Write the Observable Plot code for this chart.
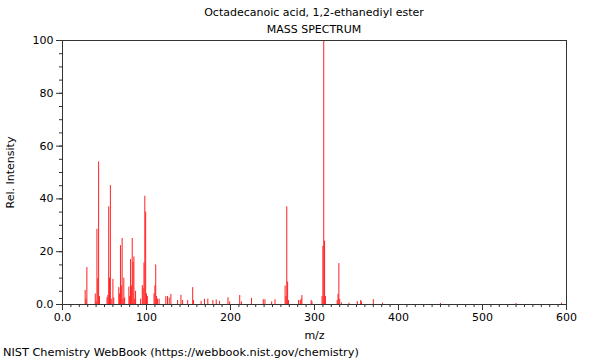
<!DOCTYPE html>
<html>
<head>
<meta charset="utf-8">
<script src="https://cdn.jsdelivr.net/npm/d3@7"></script>
<script src="https://cdn.jsdelivr.net/npm/@observablehq/plot@0.6"></script>
<style>
  body { margin: 0; background: white; font-family: "DejaVu Sans", sans-serif; color: #000; }
  #wrap { width: 600px; height: 360px; position: relative; overflow: hidden; }
  .title { position: absolute; left: 62px; width: 504px; text-align: center; font-size: 11px; line-height: 13px; }
  #caption { position: absolute; left: 3px; top: 346px; font-size: 11.3px; line-height: 14px; white-space: nowrap; }
  #chart { position: absolute; left: 0; top: 28px; }
</style>
</head>
<body>
<div id="wrap">
  <div id="chart"></div>
  <div class="title" style="top:6px">Octadecanoic acid, 1,2-ethanediyl ester</div>
  <div class="title" style="top:23px">MASS SPECTRUM</div>
  <div id="caption">NIST Chemistry WebBook (https://webbook.nist.gov/chemistry)</div>
</div>
<script>
const mz = [27, 28, 29, 39, 40, 41, 42, 43, 44, 53, 54, 55, 56, 57, 58, 60, 61,
  67, 68, 69, 70, 71, 72, 73, 74, 79, 80, 81, 82, 83, 84, 85, 86, 87, 93, 95, 96,
  97, 98, 99, 100, 101, 109, 110, 111, 112, 113, 115, 123, 125, 127, 129, 137, 141,
  143, 149, 155, 156, 165, 169, 173, 179, 183, 187, 197, 199, 211, 213, 225, 239,
  241, 249, 253, 265, 266, 267, 268, 269, 281, 283, 284, 285, 296, 297, 309, 310,
  311, 312, 313, 327, 328, 329, 330, 332, 341, 351, 355, 356, 370, 381, 450, 540, 594];
const intensity = [5.3, 2, 14, 4, 1, 28.5, 9.8, 54, 3, 2.5, 3.5, 37, 10, 45, 2, 9.5, 2.5,
  6.4, 4, 22.3, 7, 25, 2, 10, 2.5, 6.6, 3, 17, 7, 25, 16, 18, 2, 5, 2, 7.2, 6,
  15.7, 41, 35, 4, 3, 4, 7, 15, 3, 2, 2, 3, 3, 2.5, 3.8, 1.5, 3.5,
  1.5, 1.5, 6.4, 1.5, 1.2, 2, 2, 1.5, 1.7, 1.2, 2.6, 1, 3.4, 1, 2.3, 1.8,
  1.8, 1, 1.8, 7, 3, 37, 8.5, 1.5, 1.5, 1.5, 2, 3.4, 1.5, 1, 3, 22,
  100, 24, 3, 1.5, 3.8, 15.5, 2, 0.6, 0.5, 1.1, 1.5, 1, 1.8, 0.5, 0.4, 0.4, 0.5];
const xMajor = [0, 100, 200, 300, 400, 500, 600];
const yMajor = [0, 20, 40, 60, 80, 100];
const xMinor = d3.range(0, 601, 10);
const yMinor = d3.range(0, 101, 5);

const peaks = mz.map((m, i) => ({mz: m, intensity: intensity[i]}));
const fmt = d => d === 0 ? "0.0" : String(d);

const chart = Plot.plot({
  width: 600,
  height: 316,
  marginLeft: 62,
  marginRight: 34,
  marginTop: 12,
  marginBottom: 40,
  style: {fontFamily: "DejaVu Sans", fontSize: "11px", background: "transparent", color: "#000"},
  x: {domain: [0, 600]},
  y: {domain: [0, 100]},
  marks: [
    Plot.ruleX(peaks, {x: "mz", y1: 0, y2: "intensity", stroke: "#ff2020", strokeWidth: 1}),
    Plot.axisX({ticks: xMinor, tickSize: 3, tickFormat: () => "", label: null, stroke: "#333"}),
    Plot.axisX({ticks: xMajor, tickSize: 6, tickPadding: 3, tickFormat: fmt, label: "m/z", labelAnchor: "center", labelArrow: "none", labelOffset: 34, stroke: "#333"}),
    Plot.axisY({ticks: yMinor, tickSize: 3, tickFormat: () => "", label: null, stroke: "#333"}),
    Plot.axisY({ticks: yMajor, tickSize: 6, tickPadding: 3, tickFormat: fmt, label: "Rel. Intensity", labelAnchor: "center", labelArrow: "none", labelOffset: 56, stroke: "#333"}),
    Plot.frame({stroke: "#333"})
  ]
});
document.getElementById("chart").appendChild(chart);
</script>
</body>
</html>
